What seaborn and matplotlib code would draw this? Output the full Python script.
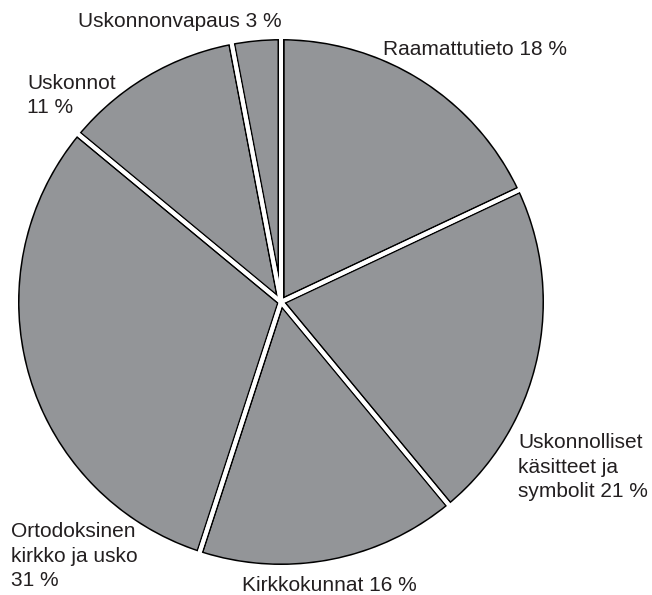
#!/usr/bin/env python3
# Pie chart: Uskonto-aiheiden jakauma

import matplotlib
matplotlib.use('Agg')
import matplotlib.pyplot as plt
import seaborn as sns

sns.set_theme(style='white')
plt.rcParams['font.family'] = ['Liberation Sans', 'DejaVu Sans']

# Data (clockwise from 12 o'clock)
categories = ['Raamattutieto', 'Uskonnolliset käsitteet ja symbolit', 'Kirkkokunnat',
              'Ortodoksinen kirkko ja usko', 'Uskonnot', 'Uskonnonvapaus']
shares = [18, 21, 16, 31, 11, 3]
label_texts = ['Raamattutieto 18 %', 'Uskonnolliset\nkäsitteet ja\nsymbolit 21 %',
               'Kirkkokunnat 16 %', 'Ortodoksinen\nkirkko ja usko\n31 %',
               'Uskonnot\n11 %', 'Uskonnonvapaus 3 %']

# Layout in pixels (left edge, baseline of the last line)
W, H = 652, 595
cx, cy, R = 281, 302, 263
label_pos = [(383, 55), (518, 497), (242, 591), (11, 586), (27, 113), (78, 27)]

pie_grey = '#939598'
px = 72 / 100  # points per pixel

fig = plt.figure(figsize=(W / 100, H / 100), dpi=100)
ax = fig.add_axes([0, 0, 1, 1])
ax.axis('off')

# base layer: grey wedges with wide black edges
wedges, _ = ax.pie(shares, startangle=90, counterclock=False,
                   radius=1 + 2 / R, colors=[pie_grey] * len(shares),
                   wedgeprops=dict(edgecolor='black', linewidth=7 * px))

# white gaps between the wedges
gaps, _ = ax.pie(shares, startangle=90, counterclock=False,
                 radius=1 + 12 / R,
                 wedgeprops=dict(facecolor='none', edgecolor='white', linewidth=4 * px))

# trim the outer rim back to a thin line
ax.add_patch(plt.Circle((0, 0), 1 + 5 / R, fill=False, edgecolor='white',
                        linewidth=10 * px))

ax.set_aspect('auto')
ax.set_xlim(-cx / R, (W - cx) / R)
ax.set_ylim(-(H - cy) / R, cy / R)

for txt, (lx, ly) in zip(label_texts, label_pos):
    ax.text((lx - cx) / R, (cy - ly) / R, txt, fontsize=15, color='#231f20',
            ha='left', va='baseline', linespacing=1.36)

plt.savefig('out.png', dpi=100)
